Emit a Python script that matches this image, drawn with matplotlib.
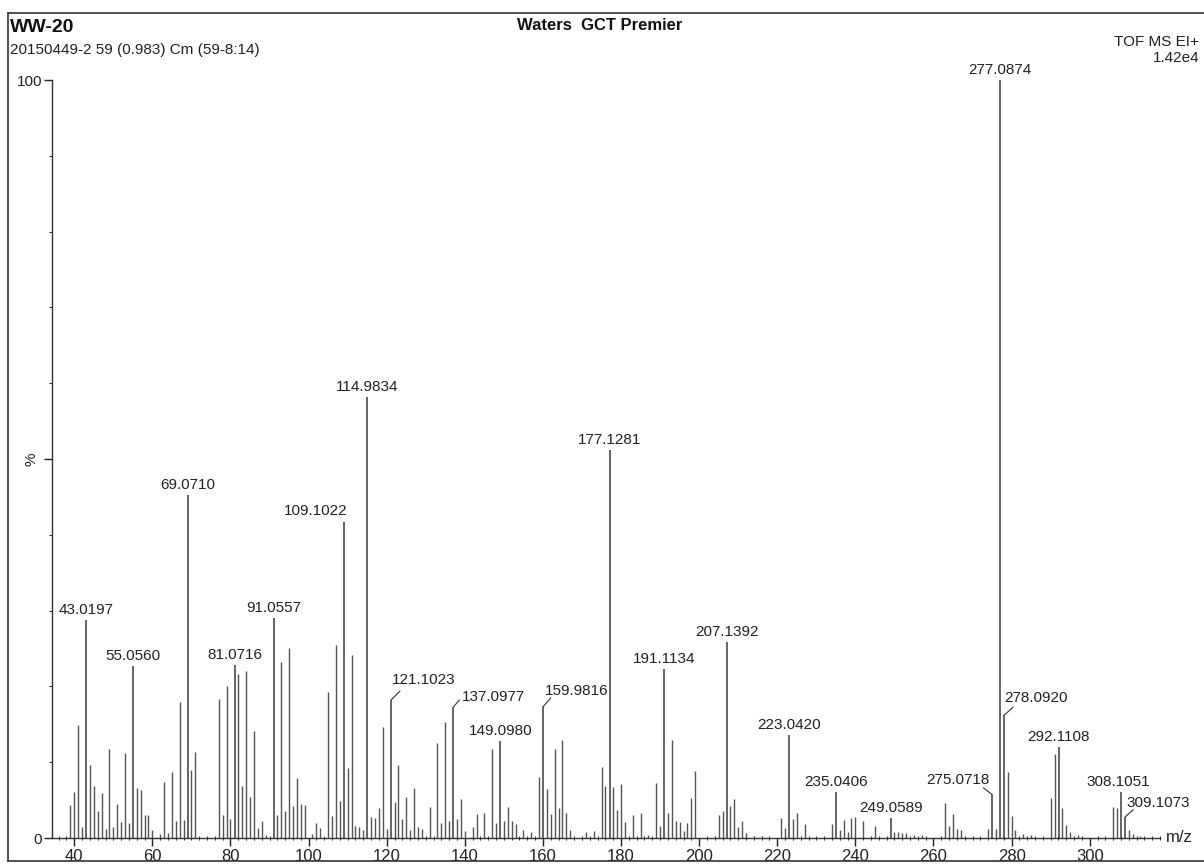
import matplotlib.pyplot as plt
from matplotlib.lines import Line2D
from matplotlib.ticker import MultipleLocator

plt.rcParams['font.family'] = ['Liberation Sans', 'DejaVu Sans']

# labelled peaks (m/z, % intensity)
label_mz = [43.0197, 55.0560, 69.0710, 81.0716, 91.0557, 109.1022, 114.9834,
            121.1023, 137.0977, 149.0980, 159.9816, 177.1281, 191.1134,
            207.1392, 223.0420, 235.0406, 249.0589, 275.0718, 277.0874,
            278.0920, 292.1108, 308.1051, 309.1073]
label_int = [28.8, 22.7, 45.3, 22.8, 29.0, 41.7, 58.2, 18.2, 17.3, 12.8, 17.3,
             51.2, 22.3, 25.9, 13.6, 6.1, 2.7, 5.7, 100.0, 16.2, 12.0, 6.1, 2.8]

# unlabelled peaks
other_mz = [39, 40, 41, 42, 44, 45, 46, 47, 48, 49, 50, 51, 52, 53, 54, 56, 57, 58,
            59, 60, 62, 63, 64, 65, 66, 67, 68, 70, 71,
            77, 78, 79, 80, 82, 83, 84, 85, 86, 87, 88, 89, 92, 93, 94, 95, 96, 97,
            98, 99, 101, 102, 103,
            105, 106, 107, 108, 110, 111, 112, 113, 114, 116, 117, 118, 119, 120,
            122, 123, 124, 125, 126, 127, 128, 129, 131, 133, 134, 135, 136, 138,
            139, 140, 142, 143, 145, 147, 148, 150, 151, 152, 153, 155, 157, 159,
            161, 162, 163, 164, 165, 166, 167, 171, 173, 175, 176, 178, 179, 180,
            181, 183, 185, 187, 189, 190, 192, 193, 194, 195, 196, 197, 198, 199,
            205, 206, 208, 209, 210, 211, 212, 214, 216, 221, 222, 224, 225, 227,
            234, 236, 237, 238, 239, 240, 242, 245, 250, 251, 252, 253, 255, 257,
            263, 264, 265, 266, 267, 274, 276, 279, 280, 281, 283, 285, 290, 291,
            293, 294, 295, 297, 306, 307, 310, 311, 313]
other_int = [4.4, 6.1, 14.9, 1.5, 9.6, 6.9, 3.5, 5.9, 1.2, 11.7, 1.4, 4.5, 2.1, 11.2,
             2.0, 6.6, 6.3, 3.1, 3.0, 1.1, 0.5, 7.4, 0.6, 8.7, 2.2, 17.9, 2.4, 9.0, 11.3,
             18.4, 3.0, 20.0, 2.5, 21.6, 6.8, 22.0, 5.4, 14.1, 1.3, 2.2, 0.4, 3.0, 23.2,
             3.5, 25.1, 4.2, 7.9, 4.5, 4.3, 0.5, 2.0, 1.3,
             19.3, 2.9, 25.5, 4.9, 9.2, 24.1, 1.6, 1.5, 1.0, 2.8, 2.7, 3.9, 14.7, 1.2,
             4.8, 9.6, 2.5, 5.4, 1.0, 6.6, 1.5, 1.2, 4.1, 12.5, 2.0, 15.3, 2.2, 2.5,
             5.1, 0.9, 1.4, 3.2, 3.3, 11.7, 2.0, 2.3, 4.1, 2.3, 1.8, 1.1, 0.8, 8.0,
             6.5, 3.2, 11.8, 4.0, 12.9, 3.3, 1.0, 0.8, 0.9, 9.4, 6.8, 6.7, 3.7, 7.1,
             2.1, 3.0, 3.3, 0.4, 7.2, 1.6, 3.3, 12.9, 2.3, 2.1, 0.9, 2.0, 5.3, 8.9,
             3.0, 3.6, 4.2, 5.1, 1.4, 2.3, 0.7, 0.3, 0.3, 2.7, 1.3, 2.5, 3.3, 1.9,
             1.9, 1.0, 2.4, 0.8, 2.6, 2.8, 2.2, 1.6, 0.8, 0.8, 0.7, 0.6, 0.4, 0.4,
             4.6, 1.6, 3.2, 1.2, 1.0, 1.2, 1.2, 8.7, 2.9, 1.0, 0.5, 0.4, 5.3, 11.1,
             4.0, 1.7, 0.8, 0.4, 4.1, 4.0, 1.0, 0.5, 0.3]

# label placement: (ha, va, dx px, dy px, leader end dx, leader end dy) or None
label_style = {
    109.1022: ('right', 'bottom', 3, 4, None, None),
    121.1023: ('left', 'center', 1, 20, 9, 9),
    137.0977: ('left', 'center', 8, 10, 6, 7),
    159.9816: ('left', 'center', 2, 16, 8, 9),
    275.0718: ('right', 'center', -3, 15, -9, 7),
    278.0920: ('left', 'center', 0, 17, 9, 8),
    308.1051: ('center', 'bottom', -3, 3, None, None),
    309.1073: ('left', 'center', 1, 14, 8, 7),
}

W, H = 1204, 865
fig = plt.figure(figsize=(W / 100, H / 100), dpi=100)
ax = fig.add_axes([52 / W, 1 - 838 / H, (1160 - 52) / W, (838 - 80) / H])

bar_color = '#3c3c3c'
ax.vlines(other_mz, 0, other_int, color='#555555', lw=1.0)
ax.vlines(label_mz, 0, label_int, color=bar_color, lw=1.1)

for mz, val in zip(label_mz, label_int):
    txt = f'{mz:.4f}'
    if mz in label_style:
        ha, va, dx, dy, lx, ly = label_style[mz]
        ax.annotate(txt, (mz, val), xytext=(dx, dy), textcoords='offset pixels',
                    ha=ha, va=va, fontsize=11, color='#222222')
        if lx is not None:
            ax.annotate('', (mz, val), xytext=(lx, ly), textcoords='offset pixels',
                        arrowprops=dict(arrowstyle='-', lw=0.8, color='#333333',
                                        shrinkA=0, shrinkB=0))
    else:
        ax.annotate(txt, (mz, val), xytext=(0, 3), textcoords='offset pixels',
                    ha='center', va='bottom', fontsize=11, color='#222222')

ax.set_xlim(34.3, 318.0)
ax.set_ylim(0, 100)
ax.spines['top'].set_visible(False)
ax.spines['right'].set_visible(False)
for s in ('left', 'bottom'):
    ax.spines[s].set_color('#333333')
    ax.spines[s].set_linewidth(1.0)

ax.set_xticks(range(40, 301, 20))
ax.xaxis.set_minor_locator(MultipleLocator(2))
ax.tick_params(axis='x', which='major', length=6, width=1, labelsize=12, pad=2, colors='#222222')
ax.tick_params(axis='x', which='minor', length=3, width=0.8, direction='inout', colors='#333333')

ax.set_yticks([0, 50, 100])
ax.set_yticklabels(['0', '', '100'])
ax.yaxis.set_minor_locator(MultipleLocator(10))
ax.tick_params(axis='y', which='major', length=6, width=1, labelsize=11, pad=1, colors='#222222')
ax.tick_params(axis='y', which='minor', length=2, width=0.8, colors='#333333')
ax.text(-0.012, 0.5, '%', transform=ax.transAxes, rotation=90, ha='right', va='center',
        fontsize=11, color='#222222')
ax.text(1.005, 0.0, 'm/z', transform=ax.transAxes, ha='left', va='center',
        fontsize=12, color='#222222')

# header texts
fig.text(10 / W, 1 - 27 / H, 'WW-20', fontsize=14, fontweight='bold', color='#111111', va='center')
fig.text(10 / W, 1 - 50 / H, '20150449-2 59 (0.983) Cm (59-8:14)', fontsize=11,
         color='#222222', va='center')
fig.text(600 / W, 1 - 25 / H, 'Waters  GCT Premier', fontsize=12, fontweight='bold',
         color='#111111', ha='center', va='center')
fig.text(1199 / W, 1 - 42 / H, 'TOF MS EI+', fontsize=11, color='#222222', ha='right', va='center')
fig.text(1199 / W, 1 - 58 / H, '1.42e4', fontsize=11, color='#222222', ha='right', va='center')

# page frame
for xs, ys in [((8, 1204), (13, 13)), ((8, 8), (13, 861)), ((8, 1204), (861, 861))]:
    fig.add_artist(Line2D([x / W for x in xs], [1 - y / H for y in ys],
                          color='#333333', lw=1.2))

fig.savefig('out.png', dpi=100)
